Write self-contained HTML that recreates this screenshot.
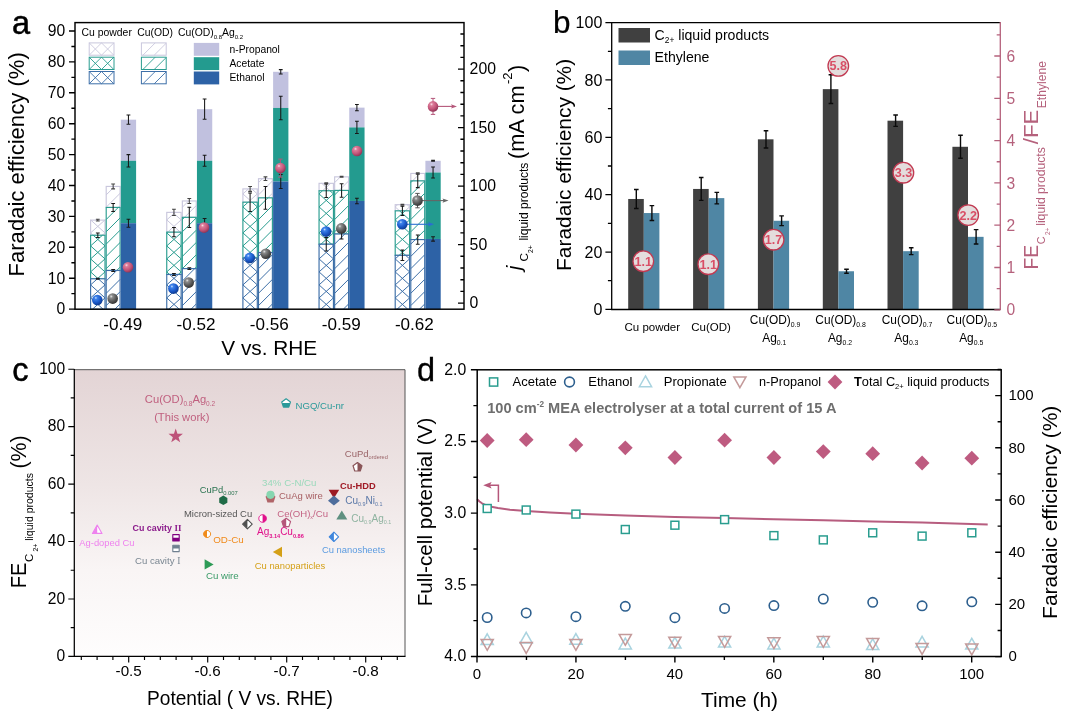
<!DOCTYPE html>
<html lang="en"><head><meta charset="utf-8"><title>Figure</title>
<style>
html,body{margin:0;padding:0;background:#fff;}
svg{display:block;}
text{font-family:"Liberation Sans",sans-serif;}
</style></head><body>
<svg width="1066" height="716" viewBox="0 0 1066 716">
<rect x="0" y="0" width="1066" height="716" fill="#fff"/>
<g id="panelA">
<defs>
<radialGradient id="sB" cx="0.36" cy="0.30" r="0.75"><stop offset="0" stop-color="#cfe3ff"/><stop offset="0.18" stop-color="#3f84ec"/><stop offset="0.6" stop-color="#1a58c8"/><stop offset="1" stop-color="#0d3788"/></radialGradient>
<radialGradient id="sG" cx="0.36" cy="0.30" r="0.75"><stop offset="0" stop-color="#e4e4e4"/><stop offset="0.2" stop-color="#8c8c8c"/><stop offset="0.6" stop-color="#5a5a5a"/><stop offset="1" stop-color="#2e2e2e"/></radialGradient>
<radialGradient id="sP" cx="0.36" cy="0.30" r="0.75"><stop offset="0" stop-color="#fbdde6"/><stop offset="0.2" stop-color="#dc7d9a"/><stop offset="0.6" stop-color="#c4567a"/><stop offset="1" stop-color="#8a3051"/></radialGradient>
</defs>
<rect x="90.6" y="220.11" width="14.4" height="15.14" fill="#fff" stroke="#c9c7dd" stroke-width="1.15"/>
<path d="M102.4 235.25L105 232.9M90.6 232.9L104.77 220.11M93.2 235.25L90.6 232.9M105 232.9L90.83 220.11" stroke="#c9c7dd" stroke-width="1" fill="none"/>
<rect x="90.6" y="235.25" width="14.4" height="43.57" fill="#fff" stroke="#2a9d90" stroke-width="1.15"/>
<path d="M97.34 278.82L105 271.9M90.6 271.9L105 258.9M90.6 258.9L105 245.9M90.6 245.9L102.4 235.25M98.26 278.82L90.6 271.9M105 271.9L90.6 258.9M105 258.9L90.6 245.9M105 245.9L93.2 235.25" stroke="#2a9d90" stroke-width="1" fill="none"/>
<rect x="90.6" y="278.82" width="14.4" height="30.38" fill="#fff" stroke="#3d6fa8" stroke-width="1.15"/>
<path d="M92.48 309.2L105 297.9M90.6 297.9L105 284.9M90.6 284.9L97.34 278.82M103.12 309.2L90.6 297.9M105 297.9L90.6 284.9M105 284.9L98.26 278.82" stroke="#3d6fa8" stroke-width="1" fill="none"/>
<rect x="106.2" y="186.43" width="13.9" height="21.01" fill="#fff" stroke="#c9c7dd" stroke-width="1.15"/>
<path d="M118.26 207.44L120.1 205.6M106.2 207.2L120.1 193.3M106.2 194.9L114.67 186.43" stroke="#c9c7dd" stroke-width="1" fill="none"/>
<rect x="106.2" y="207.44" width="13.9" height="63.04" fill="#fff" stroke="#2a9d90" stroke-width="1.15"/>
<path d="M116.72 270.48L120.1 267.1M106.2 268.7L120.1 254.8M106.2 256.4L120.1 242.5M106.2 244.1L120.1 230.2M106.2 231.8L120.1 217.9M106.2 219.5L118.26 207.44" stroke="#2a9d90" stroke-width="1" fill="none"/>
<rect x="106.2" y="270.48" width="13.9" height="38.72" fill="#fff" stroke="#3d6fa8" stroke-width="1.15"/>
<path d="M114.9 309.2L120.1 304M106.2 305.6L120.1 291.7M106.2 293.3L120.1 279.4M106.2 281L116.72 270.48" stroke="#3d6fa8" stroke-width="1" fill="none"/>
<rect x="120.8" y="119.68" width="15.3" height="41.1" fill="#c1c1df"/>
<rect x="120.8" y="160.78" width="15.3" height="62.42" fill="#239b8f"/>
<rect x="120.8" y="223.2" width="15.3" height="86" fill="#2d62a6"/>
<path d="M97.8 278.36V279.28M95.9 278.36H99.7M95.9 279.28H99.7" stroke="#181818" stroke-width="1.05" fill="none"/>
<path d="M97.8 233.09V237.41M95.9 233.09H99.7M95.9 237.41H99.7" stroke="#181818" stroke-width="1.05" fill="none"/>
<path d="M97.8 219.18V221.03M95.9 219.18H99.7M95.9 221.03H99.7" stroke="#444" stroke-width="1.05" fill="none"/>
<path d="M113.15 269.4V271.55M111.25 269.4H115.05M111.25 271.55H115.05" stroke="#181818" stroke-width="1.05" fill="none"/>
<path d="M113.15 203.44V211.44M111.25 203.44H115.05M111.25 211.44H115.05" stroke="#181818" stroke-width="1.05" fill="none"/>
<path d="M113.15 183.96V188.89M111.25 183.96H115.05M111.25 188.89H115.05" stroke="#444" stroke-width="1.05" fill="none"/>
<path d="M128.45 219.19V227.2M126.55 219.19H130.35M126.55 227.2H130.35" stroke="#181818" stroke-width="1.05" fill="none"/>
<path d="M128.45 154.62V166.94M126.55 154.62H130.35M126.55 166.94H130.35" stroke="#181818" stroke-width="1.05" fill="none"/>
<path d="M128.45 115.06V124.3M126.55 115.06H130.35M126.55 124.3H130.35" stroke="#181818" stroke-width="1.05" fill="none"/>
<rect x="166.75" y="212.38" width="14.4" height="19.78" fill="#fff" stroke="#c9c7dd" stroke-width="1.15"/>
<path d="M167.57 232.16L181.15 219.9M166.75 219.9L175.08 212.38M180.33 232.16L166.75 219.9M181.15 219.9L172.82 212.38" stroke="#c9c7dd" stroke-width="1" fill="none"/>
<rect x="166.75" y="232.16" width="14.4" height="42.33" fill="#fff" stroke="#2a9d90" stroke-width="1.15"/>
<path d="M178.28 274.49L181.15 271.9M166.75 271.9L181.15 258.9M166.75 258.9L181.15 245.9M166.75 245.9L181.15 232.9M166.75 232.9L167.57 232.16M169.62 274.49L166.75 271.9M181.15 271.9L166.75 258.9M181.15 258.9L166.75 245.9M181.15 245.9L166.75 232.9M181.15 232.9L180.33 232.16" stroke="#2a9d90" stroke-width="1" fill="none"/>
<rect x="166.75" y="274.49" width="14.4" height="34.71" fill="#fff" stroke="#3d6fa8" stroke-width="1.15"/>
<path d="M168.63 309.2L181.15 297.9M166.75 297.9L181.15 284.9M166.75 284.9L178.28 274.49M179.27 309.2L166.75 297.9M181.15 297.9L166.75 284.9M181.15 284.9L169.62 274.49" stroke="#3d6fa8" stroke-width="1" fill="none"/>
<rect x="182.35" y="200.95" width="13.9" height="16.38" fill="#fff" stroke="#c9c7dd" stroke-width="1.15"/>
<path d="M184.52 217.33L196.25 205.6M182.35 207.2L188.6 200.95" stroke="#c9c7dd" stroke-width="1" fill="none"/>
<rect x="182.35" y="217.33" width="13.9" height="51.29" fill="#fff" stroke="#2a9d90" stroke-width="1.15"/>
<path d="M194.73 268.62L196.25 267.1M182.43 268.62L196.25 254.8M182.35 256.4L196.25 242.5M182.35 244.1L196.25 230.2M182.35 231.8L196.25 217.9M182.35 219.5L184.52 217.33" stroke="#2a9d90" stroke-width="1" fill="none"/>
<rect x="182.35" y="268.62" width="13.9" height="40.58" fill="#fff" stroke="#3d6fa8" stroke-width="1.15"/>
<path d="M191.05 309.2L196.25 304M182.35 305.6L196.25 291.7M182.35 293.3L196.25 279.4M182.35 281L194.73 268.62" stroke="#3d6fa8" stroke-width="1" fill="none"/>
<rect x="196.95" y="109.18" width="15.3" height="51.6" fill="#c1c1df"/>
<rect x="196.95" y="160.78" width="15.3" height="62.42" fill="#239b8f"/>
<rect x="196.95" y="223.2" width="15.3" height="86" fill="#2d62a6"/>
<path d="M173.95 273.41V275.57M172.05 273.41H175.85M172.05 275.57H175.85" stroke="#181818" stroke-width="1.05" fill="none"/>
<path d="M173.95 227.54V236.78M172.05 227.54H175.85M172.05 236.78H175.85" stroke="#181818" stroke-width="1.05" fill="none"/>
<path d="M173.95 209.3V215.46M172.05 209.3H175.85M172.05 215.46H175.85" stroke="#444" stroke-width="1.05" fill="none"/>
<path d="M189.3 267.7V269.55M187.4 267.7H191.2M187.4 269.55H191.2" stroke="#181818" stroke-width="1.05" fill="none"/>
<path d="M189.3 207.16V227.49M187.4 207.16H191.2M187.4 227.49H191.2" stroke="#181818" stroke-width="1.05" fill="none"/>
<path d="M189.3 198.49V203.41M187.4 198.49H191.2M187.4 203.41H191.2" stroke="#444" stroke-width="1.05" fill="none"/>
<path d="M204.6 218.58V227.82M202.7 218.58H206.5M202.7 227.82H206.5" stroke="#181818" stroke-width="1.05" fill="none"/>
<path d="M204.6 155.24V166.32M202.7 155.24H206.5M202.7 166.32H206.5" stroke="#181818" stroke-width="1.05" fill="none"/>
<path d="M204.6 99.01V119.34M202.7 99.01H206.5M202.7 119.34H206.5" stroke="#181818" stroke-width="1.05" fill="none"/>
<rect x="242.9" y="188.9" width="14.4" height="13.29" fill="#fff" stroke="#c9c7dd" stroke-width="1.15"/>
<path d="M248.12 202.19L257.3 193.9M242.9 193.9L248.44 188.9M252.08 202.19L242.9 193.9M257.3 193.9L251.76 188.9" stroke="#c9c7dd" stroke-width="1" fill="none"/>
<rect x="242.9" y="202.19" width="14.4" height="55.93" fill="#fff" stroke="#2a9d90" stroke-width="1.15"/>
<path d="M243.77 258.12L257.3 245.9M242.9 245.9L257.3 232.9M242.9 232.9L257.3 219.9M242.9 219.9L257.3 206.9M242.9 206.9L248.12 202.19M256.43 258.12L242.9 245.9M257.3 245.9L242.9 232.9M257.3 232.9L242.9 219.9M257.3 219.9L242.9 206.9M257.3 206.9L252.08 202.19" stroke="#2a9d90" stroke-width="1" fill="none"/>
<rect x="242.9" y="258.12" width="14.4" height="51.08" fill="#fff" stroke="#3d6fa8" stroke-width="1.15"/>
<path d="M244.78 309.2L257.3 297.9M242.9 297.9L257.3 284.9M242.9 284.9L257.3 271.9M242.9 271.9L257.3 258.9M242.9 258.9L243.77 258.12M255.42 309.2L242.9 297.9M257.3 297.9L242.9 284.9M257.3 284.9L242.9 271.9M257.3 271.9L242.9 258.9M257.3 258.9L256.43 258.12" stroke="#3d6fa8" stroke-width="1" fill="none"/>
<rect x="258.5" y="178.7" width="13.9" height="19.16" fill="#fff" stroke="#c9c7dd" stroke-width="1.15"/>
<path d="M267.84 197.86L272.4 193.3M258.5 194.9L272.4 181M258.5 182.6L262.4 178.7" stroke="#c9c7dd" stroke-width="1" fill="none"/>
<rect x="258.5" y="197.86" width="13.9" height="54.69" fill="#fff" stroke="#2a9d90" stroke-width="1.15"/>
<path d="M262.35 252.55L272.4 242.5M258.5 244.1L272.4 230.2M258.5 231.8L272.4 217.9M258.5 219.5L272.4 205.6M258.5 207.2L267.84 197.86" stroke="#2a9d90" stroke-width="1" fill="none"/>
<rect x="258.5" y="252.55" width="13.9" height="56.65" fill="#fff" stroke="#3d6fa8" stroke-width="1.15"/>
<path d="M267.2 309.2L272.4 304M258.5 305.6L272.4 291.7M258.5 293.3L272.4 279.4M258.5 281L272.4 267.1M258.5 268.7L272.4 254.8M258.5 256.4L262.35 252.55" stroke="#3d6fa8" stroke-width="1" fill="none"/>
<rect x="273.1" y="71.79" width="15.3" height="36.15" fill="#c1c1df"/>
<rect x="273.1" y="107.94" width="15.3" height="73.54" fill="#239b8f"/>
<rect x="273.1" y="181.48" width="15.3" height="127.72" fill="#2d62a6"/>
<path d="M250.1 192.95V211.43M248.2 192.95H252M248.2 211.43H252" stroke="#181818" stroke-width="1.05" fill="none"/>
<path d="M250.1 186.44V191.36M248.2 186.44H252M248.2 191.36H252" stroke="#444" stroke-width="1.05" fill="none"/>
<path d="M265.45 186.46V209.26M263.55 186.46H267.35M263.55 209.26H267.35" stroke="#181818" stroke-width="1.05" fill="none"/>
<path d="M265.45 176.85V180.55M263.55 176.85H267.35M263.55 180.55H267.35" stroke="#444" stroke-width="1.05" fill="none"/>
<path d="M280.75 174.4V188.57M278.85 174.4H282.65M278.85 188.57H282.65" stroke="#181818" stroke-width="1.05" fill="none"/>
<path d="M280.75 96.24V119.65M278.85 96.24H282.65M278.85 119.65H282.65" stroke="#181818" stroke-width="1.05" fill="none"/>
<path d="M280.75 69.63V73.94M278.85 69.63H282.65M278.85 73.94H282.65" stroke="#181818" stroke-width="1.05" fill="none"/>
<rect x="319.05" y="183.34" width="14.4" height="7.42" fill="#fff" stroke="#c9c7dd" stroke-width="1.15"/>
<path d="M322.54 190.75L330.75 183.34M329.96 190.75L321.75 183.34" stroke="#c9c7dd" stroke-width="1" fill="none"/>
<rect x="319.05" y="190.75" width="14.4" height="53.46" fill="#fff" stroke="#2a9d90" stroke-width="1.15"/>
<path d="M320.92 244.21L333.45 232.9M319.05 232.9L333.45 219.9M319.05 219.9L333.45 206.9M319.05 206.9L333.45 193.9M319.05 193.9L322.54 190.75M331.58 244.21L319.05 232.9M333.45 232.9L319.05 219.9M333.45 219.9L319.05 206.9M333.45 206.9L319.05 193.9M333.45 193.9L329.96 190.75" stroke="#2a9d90" stroke-width="1" fill="none"/>
<rect x="319.05" y="244.21" width="14.4" height="64.99" fill="#fff" stroke="#3d6fa8" stroke-width="1.15"/>
<path d="M320.93 309.2L333.45 297.9M319.05 297.9L333.45 284.9M319.05 284.9L333.45 271.9M319.05 271.9L333.45 258.9M319.05 258.9L333.45 245.9M319.05 245.9L320.92 244.21M331.57 309.2L319.05 297.9M333.45 297.9L319.05 284.9M333.45 284.9L319.05 271.9M333.45 271.9L319.05 258.9M333.45 258.9L319.05 245.9M333.45 245.9L331.58 244.21" stroke="#3d6fa8" stroke-width="1" fill="none"/>
<rect x="334.65" y="176.85" width="13.9" height="13.6" fill="#fff" stroke="#c9c7dd" stroke-width="1.15"/>
<path d="M339.11 190.44L348.55 181M334.65 182.6L340.4 176.85" stroke="#c9c7dd" stroke-width="1" fill="none"/>
<rect x="334.65" y="190.44" width="13.9" height="43.57" fill="#fff" stroke="#2a9d90" stroke-width="1.15"/>
<path d="M344.74 234.01L348.55 230.2M334.65 231.8L348.55 217.9M334.65 219.5L348.55 205.6M334.65 207.2L348.55 193.3M334.65 194.9L339.11 190.44" stroke="#2a9d90" stroke-width="1" fill="none"/>
<rect x="334.65" y="234.01" width="13.9" height="75.19" fill="#fff" stroke="#3d6fa8" stroke-width="1.15"/>
<path d="M343.35 309.2L348.55 304M334.65 305.6L348.55 291.7M334.65 293.3L348.55 279.4M334.65 281L348.55 267.1M334.65 268.7L348.55 254.8M334.65 256.4L348.55 242.5M334.65 244.1L344.74 234.01" stroke="#3d6fa8" stroke-width="1" fill="none"/>
<rect x="349.25" y="107.63" width="15.3" height="19.78" fill="#c1c1df"/>
<rect x="349.25" y="127.41" width="15.3" height="73.54" fill="#239b8f"/>
<rect x="349.25" y="200.95" width="15.3" height="108.25" fill="#2d62a6"/>
<path d="M326.25 237.43V250.99M324.35 237.43H328.15M324.35 250.99H328.15" stroke="#181818" stroke-width="1.05" fill="none"/>
<path d="M326.25 183.98V197.53M324.35 183.98H328.15M324.35 197.53H328.15" stroke="#181818" stroke-width="1.05" fill="none"/>
<path d="M326.25 182.88V183.8M324.35 182.88H328.15M324.35 183.8H328.15" stroke="#444" stroke-width="1.05" fill="none"/>
<path d="M341.6 229.09V238.94M339.7 229.09H343.5M339.7 238.94H343.5" stroke="#181818" stroke-width="1.05" fill="none"/>
<path d="M341.6 183.67V197.22M339.7 183.67H343.5M339.7 197.22H343.5" stroke="#181818" stroke-width="1.05" fill="none"/>
<path d="M341.6 176.39V177.31M339.7 176.39H343.5M339.7 177.31H343.5" stroke="#444" stroke-width="1.05" fill="none"/>
<path d="M356.9 198.18V203.72M355 198.18H358.8M355 203.72H358.8" stroke="#181818" stroke-width="1.05" fill="none"/>
<path d="M356.9 121.25V133.57M355 121.25H358.8M355 133.57H358.8" stroke="#181818" stroke-width="1.05" fill="none"/>
<path d="M356.9 104.55V110.71M355 104.55H358.8M355 110.71H358.8" stroke="#181818" stroke-width="1.05" fill="none"/>
<rect x="395.2" y="204.66" width="14.4" height="6.18" fill="#fff" stroke="#c9c7dd" stroke-width="1.15"/>
<path d="M405.24 210.84L409.6 206.9M395.2 206.9L397.68 204.66M399.56 210.84L395.2 206.9M409.6 206.9L407.12 204.66" stroke="#c9c7dd" stroke-width="1" fill="none"/>
<rect x="395.2" y="210.84" width="14.4" height="44.5" fill="#fff" stroke="#2a9d90" stroke-width="1.15"/>
<path d="M399.15 255.33L409.6 245.9M395.2 245.9L409.6 232.9M395.2 232.9L409.6 219.9M395.2 219.9L405.24 210.84M405.65 255.33L395.2 245.9M409.6 245.9L395.2 232.9M409.6 232.9L395.2 219.9M409.6 219.9L399.56 210.84" stroke="#2a9d90" stroke-width="1" fill="none"/>
<rect x="395.2" y="255.33" width="14.4" height="53.87" fill="#fff" stroke="#3d6fa8" stroke-width="1.15"/>
<path d="M397.08 309.2L409.6 297.9M395.2 297.9L409.6 284.9M395.2 284.9L409.6 271.9M395.2 271.9L409.6 258.9M395.2 258.9L399.15 255.33M407.72 309.2L395.2 297.9M409.6 297.9L395.2 284.9M409.6 284.9L395.2 271.9M409.6 271.9L395.2 258.9M409.6 258.9L405.65 255.33" stroke="#3d6fa8" stroke-width="1" fill="none"/>
<rect x="410.8" y="173.45" width="13.9" height="7.42" fill="#fff" stroke="#c9c7dd" stroke-width="1.15"/>
<path d="M412.53 180.87L419.95 173.45" stroke="#c9c7dd" stroke-width="1" fill="none"/>
<rect x="410.8" y="180.87" width="13.9" height="58.71" fill="#fff" stroke="#2a9d90" stroke-width="1.15"/>
<path d="M415.32 239.58L424.7 230.2M410.8 231.8L424.7 217.9M410.8 219.5L424.7 205.6M410.8 207.2L424.7 193.3M410.8 194.9L424.7 181M410.8 182.6L412.53 180.87" stroke="#2a9d90" stroke-width="1" fill="none"/>
<rect x="410.8" y="239.58" width="13.9" height="69.62" fill="#fff" stroke="#3d6fa8" stroke-width="1.15"/>
<path d="M419.5 309.2L424.7 304M410.8 305.6L424.7 291.7M410.8 293.3L424.7 279.4M410.8 281L424.7 267.1M410.8 268.7L424.7 254.8M410.8 256.4L424.7 242.5M410.8 244.1L415.32 239.58" stroke="#3d6fa8" stroke-width="1" fill="none"/>
<rect x="425.4" y="160.78" width="15.3" height="11.74" fill="#c1c1df"/>
<rect x="425.4" y="172.52" width="15.3" height="66.44" fill="#239b8f"/>
<rect x="425.4" y="238.96" width="15.3" height="70.24" fill="#2d62a6"/>
<path d="M402.4 250.1V260.57M400.5 250.1H404.3M400.5 260.57H404.3" stroke="#181818" stroke-width="1.05" fill="none"/>
<path d="M402.4 206.22V215.46M400.5 206.22H404.3M400.5 215.46H404.3" stroke="#181818" stroke-width="1.05" fill="none"/>
<path d="M402.4 204.2V205.12M400.5 204.2H404.3M400.5 205.12H404.3" stroke="#444" stroke-width="1.05" fill="none"/>
<path d="M417.75 234.96V244.2M415.85 234.96H419.65M415.85 244.2H419.65" stroke="#181818" stroke-width="1.05" fill="none"/>
<path d="M417.75 174.09V187.64M415.85 174.09H419.65M415.85 187.64H419.65" stroke="#181818" stroke-width="1.05" fill="none"/>
<path d="M417.75 172.83V174.07M415.85 172.83H419.65M415.85 174.07H419.65" stroke="#444" stroke-width="1.05" fill="none"/>
<path d="M433.05 236.8V241.11M431.15 236.8H434.95M431.15 241.11H434.95" stroke="#181818" stroke-width="1.05" fill="none"/>
<path d="M433.05 166.98V178.07M431.15 166.98H434.95M431.15 178.07H434.95" stroke="#181818" stroke-width="1.05" fill="none"/>
<path d="M433.05 160.32V161.24M431.15 160.32H434.95M431.15 161.24H434.95" stroke="#181818" stroke-width="1.05" fill="none"/>
<path d="M280.4 159.1V177.1M278.2 159.1H282.6M278.2 177.1H282.6" stroke="#b5577a" stroke-width="1" fill="none"/>
<path d="M417.5 193.4V207.8M415.3 193.4H419.7M415.3 207.8H419.7" stroke="#555" stroke-width="1" fill="none"/>
<path d="M433 98.4V114.4M430.8 98.4H435.2M430.8 114.4H435.2" stroke="#b5577a" stroke-width="1" fill="none"/>
<path d="M407 224.3H430" stroke="#2a6fd0" stroke-width="1.1" fill="none"/>
<path d="M434 224.3l-6 -2.2l1.2 2.2l-1.2 2.2z" fill="#2a6fd0"/>
<path d="M422 200.6H444.5" stroke="#666" stroke-width="1.1" fill="none"/>
<path d="M448.5 200.6l-6 -2.2l1.2 2.2l-1.2 2.2z" fill="#666"/>
<path d="M438 106.4H453" stroke="#b5577a" stroke-width="1.1" fill="none"/>
<path d="M457 106.4l-6 -2.2l1.2 2.2l-1.2 2.2z" fill="#b5577a"/>
<circle cx="97.3" cy="300" r="5.3" fill="url(#sB)"/>
<circle cx="173.4" cy="288.6" r="5.3" fill="url(#sB)"/>
<circle cx="249.8" cy="257.9" r="5.3" fill="url(#sB)"/>
<circle cx="326.1" cy="231.6" r="5.3" fill="url(#sB)"/>
<circle cx="402.3" cy="224.3" r="5.3" fill="url(#sB)"/>
<circle cx="112.7" cy="298.6" r="5.3" fill="url(#sG)"/>
<circle cx="188.7" cy="282.6" r="5.3" fill="url(#sG)"/>
<circle cx="265.8" cy="253.7" r="5.3" fill="url(#sG)"/>
<circle cx="341.3" cy="228.4" r="5.3" fill="url(#sG)"/>
<circle cx="417.5" cy="200.6" r="5.3" fill="url(#sG)"/>
<circle cx="128" cy="267.3" r="5.3" fill="url(#sP)"/>
<circle cx="204" cy="227.6" r="5.3" fill="url(#sP)"/>
<circle cx="280.4" cy="168.1" r="5.3" fill="url(#sP)"/>
<circle cx="357" cy="151" r="5.3" fill="url(#sP)"/>
<circle cx="433" cy="106.4" r="5.3" fill="url(#sP)"/>
<rect x="75.0" y="22.6" width="389.0" height="286.59999999999997" fill="none" stroke="#000" stroke-width="1.45"/>
<path d="M75 309.1h-6M75 293.65h-3.6M75 278.2h-6M75 262.75h-3.6M75 247.3h-6M75 231.85h-3.6M75 216.4h-6M75 200.95h-3.6M75 185.5h-6M75 170.05h-3.6M75 154.6h-6M75 139.15h-3.6M75 123.7h-6M75 108.25h-3.6M75 92.8h-6M75 77.35h-3.6M75 61.9h-6M75 46.45h-3.6M75 31h-6M464 303.1h-6M464 291.4h-3.6M464 279.7h-3.6M464 268h-3.6M464 256.3h-3.6M464 244.6h-6M464 232.9h-3.6M464 221.2h-3.6M464 209.5h-3.6M464 197.8h-3.6M464 186.1h-6M464 174.4h-3.6M464 162.7h-3.6M464 151h-3.6M464 139.3h-3.6M464 127.6h-6M464 115.9h-3.6M464 104.2h-3.6M464 92.5h-3.6M464 80.8h-3.6M464 69.1h-6M464 57.4h-3.6M464 45.7h-3.6M464 34h-3.6" stroke="#000" stroke-width="1.4" fill="none"/>
<text x="65.3" y="314.4" font-size="15.7" text-anchor="end" fill="#000" >0</text>
<text x="65.3" y="283.5" font-size="15.7" text-anchor="end" fill="#000" >10</text>
<text x="65.3" y="252.6" font-size="15.7" text-anchor="end" fill="#000" >20</text>
<text x="65.3" y="221.7" font-size="15.7" text-anchor="end" fill="#000" >30</text>
<text x="65.3" y="190.8" font-size="15.7" text-anchor="end" fill="#000" >40</text>
<text x="65.3" y="159.9" font-size="15.7" text-anchor="end" fill="#000" >50</text>
<text x="65.3" y="129" font-size="15.7" text-anchor="end" fill="#000" >60</text>
<text x="65.3" y="98.1" font-size="15.7" text-anchor="end" fill="#000" >70</text>
<text x="65.3" y="67.2" font-size="15.7" text-anchor="end" fill="#000" >80</text>
<text x="65.3" y="36.3" font-size="15.7" text-anchor="end" fill="#000" >90</text>
<text x="469.6" y="308.2" font-size="15.8" text-anchor="start" fill="#000" >0</text>
<text x="469.6" y="249.7" font-size="15.8" text-anchor="start" fill="#000" >50</text>
<text x="469.6" y="191.2" font-size="15.8" text-anchor="start" fill="#000" >100</text>
<text x="469.6" y="132.7" font-size="15.8" text-anchor="start" fill="#000" >150</text>
<text x="469.6" y="74.2" font-size="15.8" text-anchor="start" fill="#000" >200</text>
<text x="122.7" y="329.6" font-size="15.6" text-anchor="middle" fill="#000"  textLength="39" lengthAdjust="spacingAndGlyphs">-0.49</text>
<text x="196.1" y="329.6" font-size="15.6" text-anchor="middle" fill="#000"  textLength="39" lengthAdjust="spacingAndGlyphs">-0.52</text>
<text x="269.2" y="329.6" font-size="15.6" text-anchor="middle" fill="#000"  textLength="39" lengthAdjust="spacingAndGlyphs">-0.56</text>
<text x="341.3" y="329.6" font-size="15.6" text-anchor="middle" fill="#000"  textLength="39" lengthAdjust="spacingAndGlyphs">-0.59</text>
<text x="414.4" y="329.6" font-size="15.6" text-anchor="middle" fill="#000"  textLength="39" lengthAdjust="spacingAndGlyphs">-0.62</text>
<text x="269.2" y="355.3" font-size="20.8" text-anchor="middle" fill="#000" >V vs. RHE</text>
<text x="12" y="33.7" font-size="32.5" text-anchor="start" fill="#000" stroke="#000" stroke-width="0.5">a</text>
<text transform="translate(23.9,164.4) rotate(-90)" font-size="22.1" text-anchor="middle" fill="#000">Faradaic efficiency (%)</text>
<text transform="translate(521,270.3) rotate(-90)" font-size="21" text-anchor="start" fill="#000" font-style="italic">j</text>
<text transform="translate(528.3,261.6) rotate(-90)" font-size="11.7" text-anchor="start" fill="#000">C</text>
<text transform="translate(533.3,253) rotate(-90)" font-size="6.8" text-anchor="start" fill="#000">2+</text>
<text transform="translate(528.3,240.6) rotate(-90)" font-size="12.1" text-anchor="start" fill="#000">liquid products</text>
<text transform="translate(524.1,159) rotate(-90)" font-size="21.7" text-anchor="start" fill="#000">(mA cm</text>
<text transform="translate(511.6,84) rotate(-90)" font-size="13" text-anchor="start" fill="#000">-2</text>
<text transform="translate(524.1,72) rotate(-90)" font-size="21.7" text-anchor="start" fill="#000">)</text>
<text x="81.6" y="36.2" font-size="10.4" text-anchor="start" fill="#000" >Cu powder</text>
<text x="137.2" y="36.2" font-size="10.4" text-anchor="start" fill="#000" >Cu(OD)</text>
<text x="177.9" y="36.2" font-size="10.4">Cu(OD)<tspan font-size="6" dy="2.4">0.8</tspan><tspan dy="-2.4">Ag</tspan><tspan font-size="6" dy="2.4">0.2</tspan></text>
<rect x="89.2" y="42.9" width="24.8" height="12.3" fill="#fff" stroke="#c9c7dd" stroke-width="1"/>
<path d="M89.2 55.2l12.3 -12.3M101.5 55.2l12.3 -12.3M89.2 42.9l12.3 12.3M101.5 42.9l12.3 12.3" stroke="#c9c7dd" stroke-width="0.9" fill="none"/>
<rect x="141.4" y="42.9" width="24.8" height="12.3" fill="#fff" stroke="#c9c7dd" stroke-width="1"/>
<path d="M142.9 55.2l12.3 -12.3M154.20000000000002 55.2l11.8 -11.8" stroke="#c9c7dd" stroke-width="0.9" fill="none"/>
<rect x="193.8" y="42.9" width="25.4" height="12.9" fill="#c1c1df"/>
<text x="229.5" y="52.5" font-size="10.3" text-anchor="start" fill="#000" >n-Propanol</text>
<rect x="89.2" y="57.2" width="24.8" height="12.3" fill="#fff" stroke="#2a9d90" stroke-width="1"/>
<path d="M89.2 69.5l12.3 -12.3M101.5 69.5l12.3 -12.3M89.2 57.2l12.3 12.3M101.5 57.2l12.3 12.3" stroke="#2a9d90" stroke-width="0.9" fill="none"/>
<rect x="141.4" y="57.2" width="24.8" height="12.3" fill="#fff" stroke="#2a9d90" stroke-width="1"/>
<path d="M142.9 69.5l12.3 -12.3M154.20000000000002 69.5l11.8 -11.8" stroke="#2a9d90" stroke-width="0.9" fill="none"/>
<rect x="193.8" y="57.2" width="25.4" height="12.9" fill="#239b8f"/>
<text x="229.5" y="66.8" font-size="10.3" text-anchor="start" fill="#000" >Acetate</text>
<rect x="89.2" y="71.5" width="24.8" height="12.3" fill="#fff" stroke="#3d6fa8" stroke-width="1"/>
<path d="M89.2 83.8l12.3 -12.3M101.5 83.8l12.3 -12.3M89.2 71.5l12.3 12.3M101.5 71.5l12.3 12.3" stroke="#3d6fa8" stroke-width="0.9" fill="none"/>
<rect x="141.4" y="71.5" width="24.8" height="12.3" fill="#fff" stroke="#3d6fa8" stroke-width="1"/>
<path d="M142.9 83.8l12.3 -12.3M154.20000000000002 83.8l11.8 -11.8" stroke="#3d6fa8" stroke-width="0.9" fill="none"/>
<rect x="193.8" y="71.5" width="25.4" height="12.9" fill="#2d62a6"/>
<text x="229.5" y="81.1" font-size="10.3" text-anchor="start" fill="#000" >Ethanol</text>
</g>
<g id="panelB">
<rect x="628.2" y="198.98" width="15.6" height="110.42" fill="#404040"/>
<rect x="643.8" y="213.04" width="15.6" height="96.36" fill="#4f86a4"/>
<path d="M636.3 189.52V208.45M634 189.52H638.6M634 208.45H638.6" stroke="#0a0a0a" stroke-width="1.4" fill="none"/>
<path d="M651.9 205.58V220.49M649.6 205.58H654.2M649.6 220.49H654.2" stroke="#0a0a0a" stroke-width="1.4" fill="none"/>
<rect x="693.1" y="188.94" width="15.6" height="120.46" fill="#404040"/>
<rect x="708.7" y="198.12" width="15.6" height="111.28" fill="#4f86a4"/>
<path d="M701.2 177.47V200.42M698.9 177.47H703.5M698.9 200.42H703.5" stroke="#0a0a0a" stroke-width="1.4" fill="none"/>
<path d="M716.8 192.39V203.86M714.5 192.39H719.1M714.5 203.86H719.1" stroke="#0a0a0a" stroke-width="1.4" fill="none"/>
<rect x="757.9" y="139.33" width="15.6" height="170.07" fill="#404040"/>
<rect x="773.5" y="220.78" width="15.6" height="88.62" fill="#4f86a4"/>
<path d="M766 130.72V147.93M763.7 130.72H768.3M763.7 147.93H768.3" stroke="#0a0a0a" stroke-width="1.4" fill="none"/>
<path d="M781.6 215.9V225.65M779.3 215.9H783.9M779.3 225.65H783.9" stroke="#0a0a0a" stroke-width="1.4" fill="none"/>
<rect x="822.8" y="89.14" width="15.6" height="220.26" fill="#404040"/>
<rect x="838.4" y="271.26" width="15.6" height="38.14" fill="#4f86a4"/>
<path d="M830.9 74.8V103.48M828.6 74.8H833.2M828.6 103.48H833.2" stroke="#0a0a0a" stroke-width="1.4" fill="none"/>
<path d="M846.5 269.25V273.26M844.2 269.25H848.8M844.2 273.26H848.8" stroke="#0a0a0a" stroke-width="1.4" fill="none"/>
<rect x="887.5" y="120.69" width="15.6" height="188.71" fill="#404040"/>
<rect x="903.1" y="251.18" width="15.6" height="58.22" fill="#4f86a4"/>
<path d="M895.6 114.95V126.42M893.3 114.95H897.9M893.3 126.42H897.9" stroke="#0a0a0a" stroke-width="1.4" fill="none"/>
<path d="M911.2 247.74V254.62M908.9 247.74H913.5M908.9 254.62H913.5" stroke="#0a0a0a" stroke-width="1.4" fill="none"/>
<rect x="952.4" y="146.78" width="15.6" height="162.62" fill="#404040"/>
<rect x="968" y="236.84" width="15.6" height="72.56" fill="#4f86a4"/>
<path d="M960.5 135.31V158.26M958.2 135.31H962.8M958.2 158.26H962.8" stroke="#0a0a0a" stroke-width="1.4" fill="none"/>
<path d="M976.1 229.67V244.01M973.8 229.67H978.4M973.8 244.01H978.4" stroke="#0a0a0a" stroke-width="1.4" fill="none"/>
<path d="M611.7 309.4V22.6H1000.3" stroke="#000" stroke-width="1.3" fill="none"/>
<path d="M611.1 309.4H1000.3" stroke="#000" stroke-width="1.5" fill="none"/>
<path d="M1000.3 22.0V310.09999999999997" stroke="#b5617c" stroke-width="1.3" fill="none"/>
<path d="M611.7 309.4h-6.3M611.7 280.72h-3.8M611.7 252.04h-6.3M611.7 223.36h-3.8M611.7 194.68h-6.3M611.7 166h-3.8M611.7 137.32h-6.3M611.7 108.64h-3.8M611.7 79.96h-6.3M611.7 51.28h-3.8M611.7 22.6h-6.3" stroke="#000" stroke-width="1.3" fill="none"/>
<path d="M1000.3 309.8h-6M1000.3 288.65h-3.6M1000.3 267.5h-6M1000.3 246.35h-3.6M1000.3 225.2h-6M1000.3 204.05h-3.6M1000.3 182.9h-6M1000.3 161.75h-3.6M1000.3 140.6h-6M1000.3 119.45h-3.6M1000.3 98.3h-6M1000.3 77.15h-3.6M1000.3 56h-6M1000.3 34.85h-3.6" stroke="#b5617c" stroke-width="1.3" fill="none"/>
<text x="602.3" y="315.1" font-size="16" text-anchor="end" fill="#000" >0</text>
<text x="602.3" y="257.74" font-size="16" text-anchor="end" fill="#000" >20</text>
<text x="602.3" y="200.38" font-size="16" text-anchor="end" fill="#000" >40</text>
<text x="602.3" y="143.02" font-size="16" text-anchor="end" fill="#000" >60</text>
<text x="602.3" y="85.66" font-size="16" text-anchor="end" fill="#000" >80</text>
<text x="602.3" y="28.3" font-size="16" text-anchor="end" fill="#000" >100</text>
<text x="1006.5" y="315.4" font-size="15.6" text-anchor="start" fill="#b5617c" >0</text>
<text x="1006.5" y="273.1" font-size="15.6" text-anchor="start" fill="#b5617c" >1</text>
<text x="1006.5" y="230.8" font-size="15.6" text-anchor="start" fill="#b5617c" >2</text>
<text x="1006.5" y="188.5" font-size="15.6" text-anchor="start" fill="#b5617c" >3</text>
<text x="1006.5" y="146.2" font-size="15.6" text-anchor="start" fill="#b5617c" >4</text>
<text x="1006.5" y="103.9" font-size="15.6" text-anchor="start" fill="#b5617c" >5</text>
<text x="1006.5" y="61.6" font-size="15.6" text-anchor="start" fill="#b5617c" >6</text>
<circle cx="643.3" cy="261.2" r="10.3" fill="#e4dddd" stroke="#c23a52" stroke-width="1.3"/>
<text x="643.3" y="265.7" font-size="12.6" text-anchor="middle" fill="#d94f66" font-weight="bold" >1.1</text>
<circle cx="708.3" cy="264.2" r="10.3" fill="#e4dddd" stroke="#c23a52" stroke-width="1.3"/>
<text x="708.3" y="268.7" font-size="12.6" text-anchor="middle" fill="#d94f66" font-weight="bold" >1.1</text>
<circle cx="773.6" cy="239.7" r="10.3" fill="#e4dddd" stroke="#c23a52" stroke-width="1.3"/>
<text x="773.6" y="244.2" font-size="12.6" text-anchor="middle" fill="#d94f66" font-weight="bold" >1.7</text>
<circle cx="838.3" cy="65.9" r="10.3" fill="#e4dddd" stroke="#c23a52" stroke-width="1.3"/>
<text x="838.3" y="70.4" font-size="12.6" text-anchor="middle" fill="#d94f66" font-weight="bold" >5.8</text>
<circle cx="903.4" cy="172.7" r="10.3" fill="#e4dddd" stroke="#c23a52" stroke-width="1.3"/>
<text x="903.4" y="177.2" font-size="12.6" text-anchor="middle" fill="#d94f66" font-weight="bold" >3.3</text>
<circle cx="968.2" cy="215.1" r="10.3" fill="#e4dddd" stroke="#c23a52" stroke-width="1.3"/>
<text x="968.2" y="219.6" font-size="12.6" text-anchor="middle" fill="#d94f66" font-weight="bold" >2.2</text>
<rect x="618.5" y="28" width="31.5" height="14.5" fill="#404040"/>
<rect x="618.5" y="50.5" width="31.5" height="14.5" fill="#4f86a4"/>
<text x="654.6" y="40.4" font-size="14.1">C<tspan font-size="8.4" dy="3">2+</tspan><tspan dy="-3"> liquid products</tspan></text>
<text x="654.6" y="62" font-size="14.1" text-anchor="start" fill="#000" >Ethylene</text>
<text x="652.3" y="331.3" font-size="11.5" text-anchor="middle" fill="#000" >Cu powder</text>
<text x="711" y="331.3" font-size="11.5" text-anchor="middle" fill="#000" >Cu(OD)</text>
<text x="775.1" y="324.2" font-size="11.9" text-anchor="middle">Cu(OD)<tspan font-size="6.9" dy="2.6">0.9</tspan></text>
<text x="774.3" y="342" font-size="11.9" text-anchor="middle">Ag<tspan font-size="6.9" dy="2.6">0.1</tspan></text>
<text x="840.6" y="324.2" font-size="11.9" text-anchor="middle">Cu(OD)<tspan font-size="6.9" dy="2.6">0.8</tspan></text>
<text x="840.0" y="342" font-size="11.9" text-anchor="middle">Ag<tspan font-size="6.9" dy="2.6">0.2</tspan></text>
<text x="907.0" y="324.2" font-size="11.9" text-anchor="middle">Cu(OD)<tspan font-size="6.9" dy="2.6">0.7</tspan></text>
<text x="906.4" y="342" font-size="11.9" text-anchor="middle">Ag<tspan font-size="6.9" dy="2.6">0.3</tspan></text>
<text x="971.9" y="324.2" font-size="11.9" text-anchor="middle">Cu(OD)<tspan font-size="6.9" dy="2.6">0.5</tspan></text>
<text x="971.2" y="342" font-size="11.9" text-anchor="middle">Ag<tspan font-size="6.9" dy="2.6">0.5</tspan></text>
<text x="553" y="32.8" font-size="31.5" text-anchor="start" fill="#000" stroke="#000" stroke-width="0.2">b</text>
<text transform="translate(571.4,164.9) rotate(-90)" font-size="20.9" text-anchor="middle" fill="#000">Faradaic efficiency (%)</text>
<text transform="translate(1037.5,269.6) rotate(-90) scale(0.92,1)" font-size="21" text-anchor="start" fill="#b5617c">FE</text>
<text transform="translate(1044.5,244.2) rotate(-90)" font-size="10.8" text-anchor="start" fill="#b5617c">C</text>
<text transform="translate(1049.5,235) rotate(-90)" font-size="6.5" text-anchor="start" fill="#b5617c">2+</text>
<text transform="translate(1044.5,225.8) rotate(-90)" font-size="12.2" text-anchor="start" fill="#b5617c">liquid products</text>
<text transform="translate(1037.5,144.2) rotate(-90) scale(1.06,1)" font-size="21" text-anchor="start" fill="#b5617c">/FE</text>
<text transform="translate(1045.8,108.2) rotate(-90)" font-size="12.1" text-anchor="start" fill="#b5617c">Ethylene</text>
</g>
<g id="panelC">
<defs><linearGradient id="gC" x1="0" y1="0" x2="0" y2="1"><stop offset="0" stop-color="#e3d4d5"/><stop offset="0.4" stop-color="#eee5e5"/><stop offset="0.7" stop-color="#f9f5f5"/><stop offset="1" stop-color="#fefdfd"/></linearGradient></defs>
<rect x="74.3" y="369.7" width="330.7" height="286.7" fill="url(#gC)"/>
<path d="M74.3 369.7H405.0V656.4" stroke="#555" stroke-width="1" fill="none"/>
<path d="M74.3 369.09999999999997V656.4H405.5" stroke="#000" stroke-width="1.25" fill="none"/>
<path d="M74.3 656.4h-6M74.3 627.68h-3.6M74.3 598.96h-6M74.3 570.24h-3.6M74.3 541.52h-6M74.3 512.8h-3.6M74.3 484.08h-6M74.3 455.36h-3.6M74.3 426.64h-6M74.3 397.92h-3.6M74.3 369.2h-6M81.3 656.4v3.6M97.1 656.4v3.6M112.9 656.4v3.6M128.7 656.4v6M144.5 656.4v3.6M160.3 656.4v3.6M176.1 656.4v3.6M191.9 656.4v3.6M207.7 656.4v6M223.5 656.4v3.6M239.3 656.4v3.6M255.1 656.4v3.6M270.9 656.4v3.6M286.7 656.4v6M302.5 656.4v3.6M318.3 656.4v3.6M334.1 656.4v3.6M349.9 656.4v3.6M365.7 656.4v6M381.5 656.4v3.6M397.3 656.4v3.6" stroke="#000" stroke-width="1.15" fill="none"/>
<text x="65.2" y="661.1" font-size="15.6" text-anchor="end" fill="#000" >0</text>
<text x="65.2" y="603.66" font-size="15.6" text-anchor="end" fill="#000" >20</text>
<text x="65.2" y="546.22" font-size="15.6" text-anchor="end" fill="#000" >40</text>
<text x="65.2" y="488.78" font-size="15.6" text-anchor="end" fill="#000" >60</text>
<text x="65.2" y="431.34" font-size="15.6" text-anchor="end" fill="#000" >80</text>
<text x="65.2" y="373.9" font-size="15.6" text-anchor="end" fill="#000" >100</text>
<text x="128.7" y="676.3" font-size="15.2" text-anchor="middle" fill="#000" >-0.5</text>
<text x="207.7" y="676.3" font-size="15.2" text-anchor="middle" fill="#000" >-0.6</text>
<text x="286.7" y="676.3" font-size="15.2" text-anchor="middle" fill="#000" >-0.7</text>
<text x="365.7" y="676.3" font-size="15.2" text-anchor="middle" fill="#000" >-0.8</text>
<text x="147" y="705.4" font-size="20.1" text-anchor="start" fill="#000"  textLength="186" lengthAdjust="spacingAndGlyphs">Potential ( V vs. RHE)</text>
<text x="12.3" y="380.5" font-size="32.5" text-anchor="start" fill="#000" stroke="#000" stroke-width="0.5">c</text>
<text transform="translate(26.1,588.3) rotate(-90) scale(0.93,1)" font-size="21.5" text-anchor="start" fill="#000">FE</text>
<text transform="translate(33.2,562.1) rotate(-90)" font-size="11.5" text-anchor="start" fill="#000">C</text>
<text transform="translate(38,551.6) rotate(-90)" font-size="7" text-anchor="start" fill="#000">2+</text>
<text transform="translate(32.8,540.8) rotate(-90)" font-size="10.5" text-anchor="start" fill="#000">liquid products</text>
<text transform="translate(26.1,468.6) rotate(-90)" font-size="21.3" text-anchor="start" fill="#000">(%)</text>
<polygon points="175.7,428.6 177.46,433.77 182.93,433.85 178.55,437.13 180.17,442.35 175.7,439.2 171.23,442.35 172.85,437.13 168.47,433.85 173.94,433.77" fill="#bd5279"/>
<text x="180" y="403.2" font-size="11.2" text-anchor="middle" fill="#c0607f">Cu(OD)<tspan font-size="6.5" dy="2.5">0.8</tspan><tspan dy="-2.5">Ag</tspan><tspan font-size="6.5" dy="2.5">0.2</tspan></text>
<text x="181.8" y="420.5" font-size="11.2" text-anchor="middle" fill="#c0607f" >(This work)</text>
<clipPath id="cl2861_4030"><rect x="279.1" y="403" width="14" height="7"/></clipPath>
<polygon points="286.1,398.8 290.47,401.98 288.8,407.12 283.4,407.12 281.73,401.98" fill="#fff" stroke="#2a9a9a" stroke-width="1.1" stroke-linejoin="round"/>
<polygon points="286.1,398.8 290.47,401.98 288.8,407.12 283.4,407.12 281.73,401.98" fill="#2a9a9a" clip-path="url(#cl2861_4030)"/>
<text x="295.5" y="408.6" font-size="9.6" text-anchor="start" fill="#2b9a9a" >NGQ/Cu-nr</text>
<clipPath id="cl3575_4672"><rect x="357.5" y="460.2" width="7" height="14"/></clipPath>
<polygon points="357.5,462.5 361.97,465.75 360.26,471 354.74,471 353.03,465.75" fill="#fff" stroke="#8a5558" stroke-width="1.2" stroke-linejoin="round"/>
<polygon points="357.5,462.5 361.97,465.75 360.26,471 354.74,471 353.03,465.75" fill="#8a5558" clip-path="url(#cl3575_4672)"/>
<text x="344.8" y="456.9" font-size="9.5" fill="#9a6468">CuPd<tspan font-size="5.6" dy="2.4">ordered</tspan></text>
<polygon points="223.3,495.6 227.37,497.95 227.37,502.65 223.3,505 219.23,502.65 219.23,497.95" fill="#1f6b47"/>
<text x="199.7" y="492.7" font-size="9.4" fill="#2a7350">CuPd<tspan font-size="5.8" dy="2.6">0.007</tspan></text>
<polygon points="270.5,493 275.45,496.59 273.56,502.41 267.44,502.41 265.55,496.59" fill="#b06468"/>
<circle cx="270.5" cy="494.8" r="4.1" fill="#86d6b0"/>
<text x="262.1" y="485.9" font-size="9.7" text-anchor="start" fill="#9ad9bb" >34% C-N/Cu</text>
<text x="279" y="499.1" font-size="9.5" text-anchor="start" fill="#a86064" >CuAg wire</text>
<polygon points="328.6,489.7 339.2,489.7 333.9,498.2" fill="#9c1a24"/>
<text x="340.1" y="488.5" font-size="9.3" text-anchor="start" fill="#a01b26" font-weight="bold" >Cu-HDD</text>
<polygon points="333.9,495.6 339.8,500.7 333.9,505.6 328,500.7" fill="#4e6d9c"/>
<text x="345.3" y="503.8" font-size="10" fill="#5a78a8">Cu<tspan font-size="5.4" dy="2.4">0.9</tspan><tspan dy="-2.4">Ni</tspan><tspan font-size="5.4" dy="2.4">0.1</tspan></text>
<polygon points="341.8,510.6 347.3,519.6 336.3,519.6" fill="#5f9080"/>
<text x="351.2" y="521.6" font-size="10" fill="#8fb3a0">Cu<tspan font-size="5.4" dy="2.4">0.9</tspan><tspan dy="-2.4">Ag</tspan><tspan font-size="5.4" dy="2.4">0.1</tspan></text>
<clipPath id="cl2474_5241"><rect x="240.4" y="517.1" width="7" height="14"/></clipPath>
<polygon points="247.4,519.4 252.2,524.1 247.4,528.8 242.6,524.1" fill="#fff" stroke="#505050" stroke-width="1.1" stroke-linejoin="round"/>
<polygon points="247.4,519.4 252.2,524.1 247.4,528.8 242.6,524.1" fill="#505050" clip-path="url(#cl2474_5241)"/>
<text x="184" y="516.8" font-size="9.45" text-anchor="start" fill="#555" >Micron-sized Cu</text>
<clipPath id="cl2626_5185"><rect x="262.6" y="511.5" width="7" height="14"/></clipPath>
<polygon points="262.6,514.7 263.58,514.83 264.5,515.21 265.29,515.81 265.89,516.6 266.27,517.52 266.4,518.5 266.27,519.48 265.89,520.4 265.29,521.19 264.5,521.79 263.58,522.17 262.6,522.3 261.62,522.17 260.7,521.79 259.91,521.19 259.31,520.4 258.93,519.48 258.8,518.5 258.93,517.52 259.31,516.6 259.91,515.81 260.7,515.21 261.62,514.83" fill="#fff" stroke="#e0108a" stroke-width="1.0" stroke-linejoin="round"/>
<polygon points="262.6,514.7 263.58,514.83 264.5,515.21 265.29,515.81 265.89,516.6 266.27,517.52 266.4,518.5 266.27,519.48 265.89,520.4 265.29,521.19 264.5,521.79 263.58,522.17 262.6,522.3 261.62,522.17 260.7,521.79 259.91,521.19 259.31,520.4 258.93,519.48 258.8,518.5 258.93,517.52 259.31,516.6 259.91,515.81 260.7,515.21 261.62,514.83" fill="#e0108a" clip-path="url(#cl2626_5185)"/>
<text x="257" y="535.4" font-size="10" fill="#e0108a">Ag<tspan font-size="5.6" dy="2.4" font-weight="bold">3.14</tspan><tspan dy="-2.4">Cu</tspan><tspan font-size="5.6" dy="2.4" font-weight="bold">0.86</tspan></text>
<clipPath id="cl2862_5229"><rect x="279.2" y="515.9" width="7" height="14"/></clipPath>
<polygon points="286.2,518.3 290.57,521.48 288.9,526.62 283.5,526.62 281.83,521.48" fill="#fff" stroke="#b5577a" stroke-width="1.1" stroke-linejoin="round"/>
<polygon points="286.2,518.3 290.57,521.48 288.9,526.62 283.5,526.62 281.83,521.48" fill="#b5577a" clip-path="url(#cl2862_5229)"/>
<text x="277.3" y="516.8" font-size="9.6" fill="#c46484">Ce(OH)<tspan font-size="5.4" dy="2.4">x</tspan><tspan dy="-2.4">/Cu</tspan></text>
<clipPath id="cl3339_5368"><rect x="326.9" y="529.8" width="7" height="14"/></clipPath>
<polygon points="333.9,532.1 338.6,536.8 333.9,541.5 329.2,536.8" fill="#fff" stroke="#3f86dc" stroke-width="1.1" stroke-linejoin="round"/>
<polygon points="333.9,532.1 338.6,536.8 333.9,541.5 329.2,536.8" fill="#3f86dc" clip-path="url(#cl3339_5368)"/>
<text x="322" y="553.1" font-size="9.4" text-anchor="start" fill="#5b9be0" >Cu nanosheets</text>
<polygon points="272.8,552 282,546.8 282,557.2" fill="#d4a017"/>
<text x="254.8" y="568.6" font-size="9.4" text-anchor="start" fill="#d4a017" >Cu nanoparticles</text>
<clipPath id="cl972_5295"><rect x="90.2" y="522.5" width="7" height="14"/></clipPath>
<polygon points="97.2,525 102,533.4 92.4,533.4" fill="#fff" stroke="#ee82ee" stroke-width="1.1" stroke-linejoin="round"/>
<polygon points="97.2,525 102,533.4 92.4,533.4" fill="#ee82ee" clip-path="url(#cl972_5295)"/>
<text x="79.3" y="546.2" font-size="9.4" text-anchor="start" fill="#ee82ee" >Ag-doped Cu</text>
<clipPath id="cl1760_5378"><rect x="169" y="537.8" width="14" height="7"/></clipPath>
<polygon points="172.8,534.6 179.2,534.6 179.2,541 172.8,541" fill="#fff" stroke="#800080" stroke-width="1.1" stroke-linejoin="round"/>
<polygon points="172.8,534.6 179.2,534.6 179.2,541 172.8,541" fill="#800080" clip-path="url(#cl1760_5378)"/>
<text x="132.5" y="530.7" font-size="8.9" text-anchor="start" fill="#8b1a8b" font-weight="bold" >Cu cavity <tspan font-family="Liberation Serif,serif">II</tspan></text>
<clipPath id="cl1760_5484"><rect x="169" y="541.4" width="14" height="7"/></clipPath>
<polygon points="172.8,545.2 179.2,545.2 179.2,551.6 172.8,551.6" fill="#fff" stroke="#708090" stroke-width="1.1" stroke-linejoin="round"/>
<polygon points="172.8,545.2 179.2,545.2 179.2,551.6 172.8,551.6" fill="#708090" clip-path="url(#cl1760_5484)"/>
<text x="135" y="563.6" font-size="9.6" text-anchor="start" fill="#7a8792" >Cu cavity <tspan font-family="Liberation Serif,serif">I</tspan></text>
<clipPath id="cl2071_5340"><rect x="200.1" y="527" width="7" height="14"/></clipPath>
<polygon points="207.1,530.5 208.01,530.62 208.85,530.97 209.57,531.53 210.13,532.25 210.48,533.09 210.6,534 210.48,534.91 210.13,535.75 209.57,536.47 208.85,537.03 208.01,537.38 207.1,537.5 206.19,537.38 205.35,537.03 204.63,536.47 204.07,535.75 203.72,534.91 203.6,534 203.72,533.09 204.07,532.25 204.63,531.53 205.35,530.97 206.19,530.62" fill="#fff" stroke="#f08a1a" stroke-width="1.0" stroke-linejoin="round"/>
<polygon points="207.1,530.5 208.01,530.62 208.85,530.97 209.57,531.53 210.13,532.25 210.48,533.09 210.6,534 210.48,534.91 210.13,535.75 209.57,536.47 208.85,537.03 208.01,537.38 207.1,537.5 206.19,537.38 205.35,537.03 204.63,536.47 204.07,535.75 203.72,534.91 203.6,534 203.72,533.09 204.07,532.25 204.63,531.53 205.35,530.97 206.19,530.62" fill="#f08a1a" clip-path="url(#cl2071_5340)"/>
<text x="213.2" y="543.3" font-size="9.8" text-anchor="start" fill="#f08a1a" >OD-Cu</text>
<polygon points="213.6,564.4 204.6,559.2 204.6,569.6" fill="#2e9b57"/>
<text x="205.9" y="578.8" font-size="9.7" text-anchor="start" fill="#3a9b68" >Cu wire</text>
</g>
<g id="panelD">
<path d="M477.1 499.1 L479.5 501.5 L482 503.3 L485.2 505 L490 506.6 L497.9 508.1 L510 509.7 L526.2 511 L550 512.6 L575.9 513.8 L625.3 515.6 L674.9 516.9 L724.6 518.1 L773.9 519.2 L823.3 520.3 L872.7 521.4 L922.1 522.6 L987.7 524.5" stroke="#b75d7f" stroke-width="2" fill="none" stroke-linejoin="round"/>
<path d="M498.4 502V485.3H489" stroke="#b5577a" stroke-width="1.5" fill="none"/>
<path d="M483.2 485.3l8.4 -3.2l-1.6 3.2l1.6 3.2z" fill="#b5577a"/>
<polygon points="487.2,633.82 493.3,644.62 481.1,644.62" fill="none" stroke="#a9d3df" stroke-width="1.5" stroke-linejoin="miter"/>
<polygon points="487.2,650.28 493.3,639.48 481.1,639.48" fill="none" stroke="#c49a9a" stroke-width="1.5" stroke-linejoin="miter"/>
<circle cx="487.2" cy="617.5" r="4.7" fill="none" stroke="#2d5f8e" stroke-width="1.6"/>
<rect x="483.25" y="504.55" width="7.9" height="7.9" fill="#fff" stroke="#2a9d8f" stroke-width="1.5"/>
<polygon points="487.2,433.1 494.6,440.5 487.2,447.9 479.8,440.5" fill="#be5b80"/>
<polygon points="526.2,632.32 532.3,643.12 520.1,643.12" fill="none" stroke="#a9d3df" stroke-width="1.5" stroke-linejoin="miter"/>
<polygon points="526.2,653.38 532.3,642.58 520.1,642.58" fill="none" stroke="#c49a9a" stroke-width="1.5" stroke-linejoin="miter"/>
<circle cx="526.2" cy="612.9" r="4.7" fill="none" stroke="#2d5f8e" stroke-width="1.6"/>
<rect x="522.25" y="506.05" width="7.9" height="7.9" fill="#fff" stroke="#2a9d8f" stroke-width="1.5"/>
<polygon points="526.2,432.3 533.6,439.7 526.2,447.1 518.8,439.7" fill="#be5b80"/>
<polygon points="575.9,633.52 582,644.32 569.8,644.32" fill="none" stroke="#a9d3df" stroke-width="1.5" stroke-linejoin="miter"/>
<polygon points="575.9,650.28 582,639.48 569.8,639.48" fill="none" stroke="#c49a9a" stroke-width="1.5" stroke-linejoin="miter"/>
<circle cx="575.9" cy="616.7" r="4.7" fill="none" stroke="#2d5f8e" stroke-width="1.6"/>
<rect x="571.95" y="510.15" width="7.9" height="7.9" fill="#fff" stroke="#2a9d8f" stroke-width="1.5"/>
<polygon points="575.9,437.6 583.3,445 575.9,452.4 568.5,445" fill="#be5b80"/>
<polygon points="625.3,638.12 631.4,648.92 619.2,648.92" fill="none" stroke="#a9d3df" stroke-width="1.5" stroke-linejoin="miter"/>
<polygon points="625.3,645.28 631.4,634.48 619.2,634.48" fill="none" stroke="#c49a9a" stroke-width="1.5" stroke-linejoin="miter"/>
<circle cx="625.3" cy="606.3" r="4.7" fill="none" stroke="#2d5f8e" stroke-width="1.6"/>
<rect x="621.35" y="525.55" width="7.9" height="7.9" fill="#fff" stroke="#2a9d8f" stroke-width="1.5"/>
<polygon points="625.3,440.4 632.7,447.8 625.3,455.2 617.9,447.8" fill="#be5b80"/>
<polygon points="674.9,637.32 681,648.12 668.8,648.12" fill="none" stroke="#a9d3df" stroke-width="1.5" stroke-linejoin="miter"/>
<polygon points="674.9,647.98 681,637.18 668.8,637.18" fill="none" stroke="#c49a9a" stroke-width="1.5" stroke-linejoin="miter"/>
<circle cx="674.9" cy="617.7" r="4.7" fill="none" stroke="#2d5f8e" stroke-width="1.6"/>
<rect x="670.95" y="521.25" width="7.9" height="7.9" fill="#fff" stroke="#2a9d8f" stroke-width="1.5"/>
<polygon points="674.9,450.1 682.3,457.5 674.9,464.9 667.5,457.5" fill="#be5b80"/>
<polygon points="724.6,636.32 730.7,647.12 718.5,647.12" fill="none" stroke="#a9d3df" stroke-width="1.5" stroke-linejoin="miter"/>
<polygon points="724.6,647.28 730.7,636.48 718.5,636.48" fill="none" stroke="#c49a9a" stroke-width="1.5" stroke-linejoin="miter"/>
<circle cx="724.6" cy="608.4" r="4.7" fill="none" stroke="#2d5f8e" stroke-width="1.6"/>
<rect x="720.65" y="515.65" width="7.9" height="7.9" fill="#fff" stroke="#2a9d8f" stroke-width="1.5"/>
<polygon points="724.6,432.8 732,440.2 724.6,447.6 717.2,440.2" fill="#be5b80"/>
<polygon points="773.9,638.12 780,648.92 767.8,648.92" fill="none" stroke="#a9d3df" stroke-width="1.5" stroke-linejoin="miter"/>
<polygon points="773.9,648.58 780,637.78 767.8,637.78" fill="none" stroke="#c49a9a" stroke-width="1.5" stroke-linejoin="miter"/>
<circle cx="773.9" cy="605.6" r="4.7" fill="none" stroke="#2d5f8e" stroke-width="1.6"/>
<rect x="769.95" y="531.65" width="7.9" height="7.9" fill="#fff" stroke="#2a9d8f" stroke-width="1.5"/>
<polygon points="773.9,450.1 781.3,457.5 773.9,464.9 766.5,457.5" fill="#be5b80"/>
<polygon points="823.3,636.12 829.4,646.92 817.2,646.92" fill="none" stroke="#a9d3df" stroke-width="1.5" stroke-linejoin="miter"/>
<polygon points="823.3,647.28 829.4,636.48 817.2,636.48" fill="none" stroke="#c49a9a" stroke-width="1.5" stroke-linejoin="miter"/>
<circle cx="823.3" cy="599" r="4.7" fill="none" stroke="#2d5f8e" stroke-width="1.6"/>
<rect x="819.35" y="535.95" width="7.9" height="7.9" fill="#fff" stroke="#2a9d8f" stroke-width="1.5"/>
<polygon points="823.3,444.2 830.7,451.6 823.3,459 815.9,451.6" fill="#be5b80"/>
<polygon points="872.7,638.82 878.8,649.62 866.6,649.62" fill="none" stroke="#a9d3df" stroke-width="1.5" stroke-linejoin="miter"/>
<polygon points="872.7,649.28 878.8,638.48 866.6,638.48" fill="none" stroke="#c49a9a" stroke-width="1.5" stroke-linejoin="miter"/>
<circle cx="872.7" cy="602.3" r="4.7" fill="none" stroke="#2d5f8e" stroke-width="1.6"/>
<rect x="868.75" y="528.85" width="7.9" height="7.9" fill="#fff" stroke="#2a9d8f" stroke-width="1.5"/>
<polygon points="872.7,446.3 880.1,453.7 872.7,461.1 865.3,453.7" fill="#be5b80"/>
<polygon points="922.1,636.32 928.2,647.12 916,647.12" fill="none" stroke="#a9d3df" stroke-width="1.5" stroke-linejoin="miter"/>
<polygon points="922.1,654.38 928.2,643.58 916,643.58" fill="none" stroke="#c49a9a" stroke-width="1.5" stroke-linejoin="miter"/>
<circle cx="922.1" cy="605.8" r="4.7" fill="none" stroke="#2d5f8e" stroke-width="1.6"/>
<rect x="918.15" y="532.15" width="7.9" height="7.9" fill="#fff" stroke="#2a9d8f" stroke-width="1.5"/>
<polygon points="922.1,455.6 929.5,463 922.1,470.4 914.7,463" fill="#be5b80"/>
<polygon points="971.8,638.32 977.9,649.12 965.7,649.12" fill="none" stroke="#a9d3df" stroke-width="1.5" stroke-linejoin="miter"/>
<polygon points="971.8,654.88 977.9,644.08 965.7,644.08" fill="none" stroke="#c49a9a" stroke-width="1.5" stroke-linejoin="miter"/>
<circle cx="971.8" cy="601.8" r="4.7" fill="none" stroke="#2d5f8e" stroke-width="1.6"/>
<rect x="967.85" y="528.85" width="7.9" height="7.9" fill="#fff" stroke="#2a9d8f" stroke-width="1.5"/>
<polygon points="971.8,450.8 979.2,458.2 971.8,465.6 964.4,458.2" fill="#be5b80"/>
<rect x="477.2" y="369.8" width="524.0" height="286.7" fill="none" stroke="#000" stroke-width="1.5"/>
<path d="M477.2 369.8h-6.3M477.2 405.64h-3.8M477.2 441.48h-6.3M477.2 477.31h-3.8M477.2 513.15h-6.3M477.2 548.99h-3.8M477.2 584.83h-6.3M477.2 620.66h-3.8M477.2 656.5h-6.3M1001.2 656.6h-6M1001.2 630.5h-3.6M1001.2 604.4h-6M1001.2 578.3h-3.6M1001.2 552.2h-6M1001.2 526.1h-3.6M1001.2 500h-6M1001.2 473.9h-3.6M1001.2 447.8h-6M1001.2 421.7h-3.6M1001.2 395.6h-6M1001.2 369.5h-3.6M477 656.5v6M526.47 656.5v3.6M575.94 656.5v6M625.41 656.5v3.6M674.88 656.5v6M724.35 656.5v3.6M773.82 656.5v6M823.29 656.5v3.6M872.76 656.5v6M922.23 656.5v3.6M971.7 656.5v6" stroke="#000" stroke-width="1.4" fill="none"/>
<text x="466.2" y="374.5" font-size="15.8" text-anchor="end" fill="#000" >2.0</text>
<text x="466.2" y="446.18" font-size="15.8" text-anchor="end" fill="#000" >2.5</text>
<text x="466.2" y="517.85" font-size="15.8" text-anchor="end" fill="#000" >3.0</text>
<text x="466.2" y="589.53" font-size="15.8" text-anchor="end" fill="#000" >3.5</text>
<text x="466.2" y="661.2" font-size="15.8" text-anchor="end" fill="#000" >4.0</text>
<text x="1008.5" y="661.4" font-size="15" text-anchor="start" fill="#000" >0</text>
<text x="1008.5" y="609.2" font-size="15" text-anchor="start" fill="#000" >20</text>
<text x="1008.5" y="557" font-size="15" text-anchor="start" fill="#000" >40</text>
<text x="1008.5" y="504.8" font-size="15" text-anchor="start" fill="#000" >60</text>
<text x="1008.5" y="452.6" font-size="15" text-anchor="start" fill="#000" >80</text>
<text x="1008.5" y="400.4" font-size="15" text-anchor="start" fill="#000" >100</text>
<text x="477" y="678.9" font-size="15" text-anchor="middle" fill="#000" >0</text>
<text x="575.94" y="678.9" font-size="15" text-anchor="middle" fill="#000" >20</text>
<text x="674.88" y="678.9" font-size="15" text-anchor="middle" fill="#000" >40</text>
<text x="773.82" y="678.9" font-size="15" text-anchor="middle" fill="#000" >60</text>
<text x="872.76" y="678.9" font-size="15" text-anchor="middle" fill="#000" >80</text>
<text x="971.7" y="678.9" font-size="15" text-anchor="middle" fill="#000" >100</text>
<text x="739.6" y="706.8" font-size="20.9" text-anchor="middle" fill="#000" >Time (h)</text>
<text x="417" y="380.5" font-size="32.5" text-anchor="start" fill="#000" stroke="#000" stroke-width="0.3">d</text>
<text transform="translate(431.9,512) rotate(-90)" font-size="20.7" text-anchor="middle" fill="#000">Full-cell potential (V)</text>
<text transform="translate(1057.3,512.3) rotate(-90)" font-size="21.0" text-anchor="middle" fill="#000">Faradaic efficiency (%)</text>
<rect x="489.5" y="377.9" width="8.2" height="8.2" fill="#fff" stroke="#2a9d8f" stroke-width="1.5"/>
<text x="512.6" y="385.8" font-size="13.0" text-anchor="start" fill="#000" >Acetate</text>
<circle cx="569.5" cy="382" r="4.9" fill="none" stroke="#2d5f8e" stroke-width="1.6"/>
<text x="588.3" y="385.8" font-size="13.0" text-anchor="start" fill="#000" >Ethanol</text>
<polygon points="645.5,375.92 651.6,386.72 639.4,386.72" fill="none" stroke="#a9d3df" stroke-width="1.5" stroke-linejoin="miter"/>
<text x="663.8" y="385.8" font-size="13.0" text-anchor="start" fill="#000" >Propionate</text>
<polygon points="739.9,387.68 746,376.88 733.8,376.88" fill="none" stroke="#c49a9a" stroke-width="1.5" stroke-linejoin="miter"/>
<text x="759" y="385.8" font-size="12.7" text-anchor="start" fill="#000" >n-Propanol</text>
<polygon points="835,374.6 842.4,382 835,389.4 827.6,382" fill="#be5b80"/>
<text x="854" y="385.8" font-size="12.75"><tspan font-weight="bold">T</tspan>otal C<tspan font-size="7.5" dy="3">2+</tspan><tspan dy="-3"> liquid products</tspan></text>
<text x="487.2" y="413.1" font-size="14.6" font-weight="bold" fill="#6e6e6e">100 cm<tspan font-size="8.2" dy="-6">-2</tspan><tspan dy="6"> MEA electrolyser at a total current of 15 A</tspan></text>
</g>
</svg>
</body></html>
